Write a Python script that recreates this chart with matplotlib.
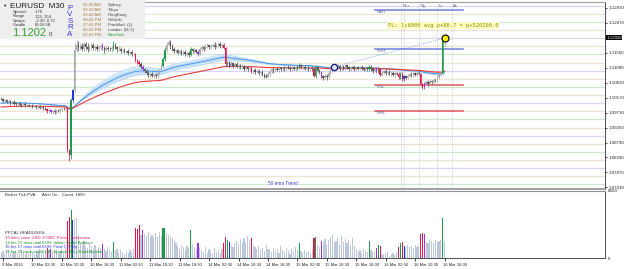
import numpy as np
import pandas as pd
import matplotlib
matplotlib.use("Agg")
import matplotlib.pyplot as plt
from matplotlib.patches import Rectangle

plt.rcParams['font.family'] = ['Liberation Sans', 'DejaVu Sans']

W, H = 625, 269

# EURUSD M30, prices in 1/10000 (pips)
open0 = 11014
closes = (
    [11012, 11008, 11010, 11005, 11006, 11002, 11004, 10999, 10997, 11000,
     10996, 10994, 10997, 10993, 10995, 10991, 10993, 10990, 10992, 10987,
     10989, 10985, 10988, 10984, 10982, 10975, 10978, 10972, 10976, 10973,
     10978, 10975, 10980, 10983, 10981, 10985]
    + [10856, 10840, 11010, 11040, 11165, 11180, 11170]
    + [11176, 11168, 11182, 11174, 11166, 11172, 11178, 11170, 11174, 11168,
       11172, 11176, 11170, 11165, 11171, 11168]
    + [11166, 11170, 11180, 11172, 11166, 11168, 11160, 11163, 11158, 11160,
       11154, 11157, 11150, 11152]
    + [11132, 11128, 11120, 11112, 11104, 11100, 11093, 11086, 11090, 11084,
       11088, 11083, 11092, 11100]
    + [11115, 11135, 11165, 11180, 11188, 11175, 11168, 11160]
    + [11162, 11156, 11160, 11152, 11158, 11150, 11155, 11149, 11166, 11160,
       11164, 11158, 11152, 11166, 11172, 11168, 11175, 11178, 11172, 11176,
       11180, 11174, 11178, 11182, 11176, 11180, 11170]
    + [11120, 11126, 11116]
    + [11124, 11115, 11120, 11112, 11117, 11110, 11114, 11106, 11110, 11104,
       11108, 11096, 11102, 11096, 11100, 11092, 11096, 11088, 11085, 11082,
       11090]
    + [11098, 11104, 11100, 11106, 11102, 11108, 11104, 11110, 11106, 11112,
       11108, 11105, 11110, 11106, 11112, 11108, 11118, 11110, 11112, 11106,
       11110, 11104, 11108]
    + [11104, 11085, 11112, 11100, 11095, 11083, 11078, 11085, 11080, 11092,
       11100, 11108, 11112]
    + [11110, 11114, 11106, 11112, 11108, 11116, 11110, 11105, 11112, 11108,
       11104, 11110, 11106, 11112, 11107, 11103, 11108, 11104, 11112, 11105,
       11100, 11106, 11098, 11104]
    + [11088]
    + [11094, 11098, 11092, 11096, 11090, 11094, 11088, 11092, 11090]
    + [11080, 11090, 11074, 11082]
    + [11078, 11085, 11090, 11086, 11092, 11088, 11094, 11090]
    + [11058, 11050, 11060]
    + [11066, 11060, 11068, 11064, 11072, 11070, 11080, 11088, 11094]
    + [11196, 11202]
)
up_wick = (
    [4, 5, 3, 4, 6, 3, 4, 5, 3, 4, 5, 3, 4, 6, 3, 4, 3, 5, 4, 3,
     4, 6, 3, 4, 5, 4, 6, 3, 4, 5, 3, 4, 6, 3, 5, 4]
    + [3, 4, 5, 5, 20, 15, 10]
    + [8, 9, 6, 7, 10, 6, 7, 8, 5, 9, 6, 7, 8, 6, 7, 5]
    + [6, 7, 10, 6, 5, 7, 6, 5, 7, 4, 6, 5, 7, 4]
    + [3, 5, 4, 6, 5, 4, 6, 5, 4, 6, 3, 5, 4, 6]
    + [5, 6, 8, 7, 8, 6, 7, 5]
    + [5, 6, 4, 7, 5, 6, 4, 5, 8, 5, 6, 4, 5, 7, 6, 5, 7, 6, 4, 6,
       5, 7, 6, 5, 6, 4, 5]
    + [4, 5, 4]
    + [6, 4, 5, 6, 4, 5, 6, 4, 5, 4, 6, 5, 4, 6, 4, 5, 4, 6, 4, 5, 6]
    + [4, 5, 6, 4, 5, 6, 4, 5, 6, 4, 5, 6, 4, 5, 4, 6, 5, 4, 5, 6, 4, 5, 4]
    + [5, 6, 6, 4, 5, 4, 5, 4, 5, 6, 4, 5, 4]
    + [5, 6, 4, 5, 6, 4, 5, 6, 4, 5, 6, 4, 5, 4, 6, 4, 5, 4, 6, 5, 4, 5, 4, 6]
    + [4]
    + [5, 4, 6, 4, 5, 4, 6, 4, 5]
    + [5, 6, 5, 4]
    + [4, 5, 4, 6, 4, 5, 4, 5]
    + [3, 5, 4]
    + [5, 4, 5, 4, 5, 4, 5, 4, 3]
    + [5, 3]
)
dn_wick = (
    [3, 4, 5, 3, 4, 6, 3, 4, 5, 3, 4, 5, 3, 4, 6, 3, 4, 5, 3, 4,
     5, 3, 4, 6, 3, 4, 5, 3, 4, 5, 6, 3, 4, 5, 3, 4]
    + [6, 18, 12, 5, 5, 7, 10]
    + [7, 8, 6, 9, 7, 6, 8, 7, 9, 6, 7, 8, 6, 9, 7, 6]
    + [6, 7, 5, 6, 8, 5, 6, 7, 5, 6, 7, 5, 6, 5]
    + [4, 6, 5, 7, 5, 6, 7, 5, 6, 4, 6, 5, 4, 5]
    + [4, 5, 4, 6, 5, 7, 6, 5]
    + [5, 4, 6, 5, 4, 6, 5, 7, 4, 5, 6, 4, 6, 5, 4, 6, 5, 4, 6, 5,
       4, 6, 5, 4, 6, 5, 4]
    + [5, 6, 5]
    + [5, 6, 4, 5, 6, 4, 5, 6, 4, 5, 6, 4, 5, 6, 4, 5, 6, 4, 6, 5, 4]
    + [5, 4, 6, 5, 4, 6, 5, 4, 6, 5, 4, 6, 5, 4, 6, 5, 4, 5, 6, 4, 5, 6, 4]
    + [4, 5, 6, 5, 4, 6, 7, 4, 8, 5, 4, 5, 4]
    + [4, 5, 6, 4, 5, 6, 4, 5, 6, 4, 5, 6, 4, 5, 6, 4, 5, 6, 4, 5, 6, 4, 5, 6]
    + [5]
    + [4, 5, 4, 6, 4, 5, 4, 6, 4]
    + [5, 4, 6, 5]
    + [5, 4, 5, 4, 5, 4, 5, 4]
    + [4, 6, 5]
    + [5, 6, 4, 5, 6, 4, 5, 4, 5]
    + [4, 21]
)
volumes = (
    [500, 700, 400, 600, 800, 500, 400, 600, 700, 400,
     500, 800, 600, 400, 700, 500, 900, 600, 400, 800,
     600, 900, 700, 500, 800, 1000, 800, 900, 600, 700,
     800, 500, 700, 900, 600, 1000]
    + [3600, 4000, 4700, 3700, 3800, 3900, 2300]
    + [1500, 1300, 1700, 1100, 1000, 1400, 1200, 900, 1300, 800,
       1100, 1000, 1400, 900, 700, 1100]
    + [800, 600, 1600, 700, 900, 500, 800, 600, 400, 700,
       500, 800, 600, 900]
    + [3000, 2850, 3250, 2300, 2750, 2400, 2200, 2550, 2100, 2300,
       2000, 2450, 2100, 2600]
    + [2200, 2950, 2950, 2500, 2300, 2100, 2000, 1700]
    + [1500, 1200, 900, 1300, 1100, 800, 1200, 1000, 2750, 1400,
       1100, 900, 1500, 1000, 800, 600, 1100, 500, 900, 700,
       400, 1000, 600, 800, 500, 900, 1500]
    + [2050, 1800, 1600]
    + [1300, 1100, 1500, 1700, 1400, 1900, 1600, 2000, 1500, 2200,
       1800, 2000, 1300, 1100, 900, 1200, 800, 1000, 700, 1300, 900]
    + [800, 600, 1000, 700, 900, 500, 1200, 800, 600, 1000,
       700, 400, 900, 600, 1100, 800, 1500, 700, 500, 800, 600, 700, 500]
    + [900, 2000, 2100, 1300, 1100, 1700, 1500, 1900, 1300, 1800,
       2100, 2300, 1600]
    + [1700, 2000, 1400, 2200, 1600, 1900, 1500, 1800, 1300, 2000,
       1200, 900, 600, 800, 500, 900, 700, 600, 1700, 800, 600, 700, 1000, 1300]
    + [1200]
    + [400, 300, 500, 600, 200, 400, 500, 300, 600]
    + [1100, 1500, 1600, 1200]
    + [1000, 1300, 1100, 1200, 1000, 1300, 1100, 1200]
    + [2400, 2500, 2400]
    + [1600, 1500, 1800, 1700, 1500, 1800, 1600, 1700, 1800]
    + [3950, 1700]
)
# PVA candle classes (red climax bear, green climax bull, blue rising bull, purple rising bear)
pva_red = [25, 36, 37, 73, 74, 75, 121, 122, 136, 170, 206, 216, 218, 228, 229]
pva_green = [38, 61, 88, 89, 103, 123, 162, 171, 200, 205, 217, 240]
pva_blue = [39, 124, 219]
pva_purple = [27, 55, 77, 107, 174, 204, 230]

price_ticks = [1.12930, 1.12470, 1.12010, 1.11550, 1.11090, 1.10630, 1.10170,
               1.09710, 1.09250, 1.08790, 1.08330, 1.07870, 1.07410]
date_labels = ["9 Mar 2016", "10 Mar 02:30", "10 Mar 10:30", "10 Mar 18:30",
               "11 Mar 02:30", "11 Mar 10:30", "11 Mar 18:30", "14 Mar 02:30",
               "14 Mar 10:30", "14 Mar 18:30", "15 Mar 02:30", "15 Mar 10:30",
               "15 Mar 18:30", "16 Mar 02:30", "16 Mar 10:30", "16 Mar 18:30"]
date_bars = [1, 17, 33, 49, 65, 81, 97, 113, 129, 145, 161, 177, 193, 209, 225, 241]

ref_names = ["RAH", "RDH", "RDL", "RWL"]
ref_prices = [1.1287, 1.1167, 1.1056, 1.0976]
ref_colors = ['#6f7fe0', '#6f7fe0', '#e05a5a', '#e05a5a']
session_bars = [217.3, 218.9, 227.1, 236.9, 245.0]
session_names = ["PLs", "", "Ny", "Lc", "As"]
trade_bars = [181, 241]
trade_prices = [1.1112, 1.1200]
current_price = 1.1202

# ---------------------------------------------------------------
c = np.array(closes) / 1e4
o = np.r_[open0 / 1e4, c[:-1]]
hi = np.maximum(o, c) + np.array(up_wick) / 1e4
lo = np.minimum(o, c) - np.array(dn_wick) / 1e4
n = len(c)
k = np.arange(n)

cols = []
vcols = []
for i in range(n):
    if i in pva_red:
        cols.append('#e3174f'); vcols.append('#e3174f')
    elif i in pva_green:
        cols.append('#1f9a4c'); vcols.append('#1f9a4c')
    elif i in pva_blue:
        cols.append('#2038e0'); vcols.append('#2038e0')
    elif i in pva_purple:
        cols.append('#a22cf0'); vcols.append('#a22cf0')
    else:
        cols.append('#a8a8a8' if c[i] >= o[i] else '#555555')
        vcols.append('#bcc7d9')

fig = plt.figure(figsize=(W / 100, H / 100), dpi=100)
ax = fig.add_axes([0, 1 - 189 / H, 605 / W, 187 / H])
vax = fig.add_axes([0, 1 - 258 / H, 605 / W, 67 / H])

xlim = (-0.63, 328.2)
ax.set_xlim(*xlim)
ax.set_ylim(1.07360, 1.13114)

# round-number levels
for lv in range(10750, 11301, 25):
    if lv % 100 == 0:
        lc = '#d8d8f6'
    elif lv % 50 == 0:
        lc = '#cceacc'
    else:
        lc = '#ebe5d2'
    ax.axhline(lv / 1e4, color=lc, lw=0.9, zorder=1)

# EMA ribbon and trend ema
s = pd.Series(np.r_[1.1000, c])
rib = np.array([s.ewm(span=sp, adjust=False).mean().values[1:] for sp in (55, 65, 75, 85)])
ax.fill_between(k, rib.min(axis=0) - 0.00006, rib.max(axis=0) + 0.00006,
                color='#d4e8fb', lw=0, zorder=2)
for r in rib:
    ax.plot(k, r, color='#a6cff3', lw=0.4, zorder=2)
ax.plot(k, s.ewm(span=70, adjust=False).mean().values[1:], color='#3d8fe0', lw=0.6, zorder=3)
red = pd.Series(np.r_[1.0988, c]).ewm(span=120, adjust=False).mean().values[1:]
ax.plot(k, red, color='#e83a3a', lw=0.8, zorder=3)

# candles
ax.vlines(k, lo, hi, colors=cols, lw=0.55, zorder=4)
ax.bar(k, np.abs(c - o) + 0.00002, bottom=np.minimum(o, c), width=0.75,
       color=cols, lw=0, zorder=4)

# reference lines
for nm, pr, rc in zip(ref_names, ref_prices, ref_colors):
    ax.plot([203.2, 251], [pr, pr], color=rc, lw=1.1, zorder=3)
    ax.text(204, pr - 0.0006, nm, fontsize=3.1, color='#6060a0', va='center', zorder=6)

# session markers
for sb, sn in zip(session_bars, session_names):
    ax.plot([sb, sb], [1.0736, 1.1307], color='#b4b4b4', lw=0.5,
            ls=(0, (1.2, 1.6)), zorder=2)
    if sn:
        ax.text(sb + 0.8, 1.1299, sn, fontsize=3.1, color='#606080', va='center')

# trade line
ax.plot(trade_bars, trade_prices, color='#6f90e8', lw=0.6, ls=(0, (1, 1.5)), zorder=5)
ax.plot(trade_bars[0], trade_prices[0], 'o', ms=4.5, mfc='#d8ecff', mec='#10107a', mew=0.9, zorder=6)
ax.plot(trade_bars[1], trade_prices[1], 'o', ms=5, mfc='#ffee00', mec='#111111', mew=0.9, zorder=6)

ax.text(210, 1.1239, "PL: 1c6000 avg p+86.7 = p+520200.0", fontsize=3.9,
        family='DejaVu Sans Mono', color='#8c8c00', va='center', zorder=6,
        bbox=dict(facecolor='#ffffc4', edgecolor='none', pad=0.6))
ax.text(145, 1.0754, "50 ema Trend", fontsize=3.4, color='#3535c0', va='center', zorder=6,
        bbox=dict(facecolor='white', edgecolor='none', pad=0.6))

# price axis (the label under the current-price box is hidden)
ax.yaxis.tick_right()
ax.set_yticks(price_ticks)
ax.set_yticklabels(["" if abs(v - current_price) < 0.0003 else f"{v:.5f}" for v in price_ticks],
                   fontsize=3.2, color='#222222')
ax.tick_params(axis='y', length=1.5, width=0.5, pad=0.8)
ax.set_xticks([])
ax.text(1.002, current_price, f"{current_price:.5f}", transform=ax.get_yaxis_transform(),
        fontsize=3.2, color='white', va='center', ha='left', clip_on=False, zorder=10,
        bbox=dict(facecolor='black', edgecolor='none', pad=0.4))
ax.spines['left'].set_visible(False)
ax.spines['top'].set_color('#a0a0a0')
ax.spines['bottom'].set_color('#909090')
ax.spines['bottom'].set_linewidth(1.2)
ax.spines['right'].set_color('#333333')
ax.spines['right'].set_linewidth(0.6)

# volume panel
vax.set_xlim(*xlim)
vax.set_ylim(0, 6603)
vax.bar(k, volumes, width=0.62, color=vcols, lw=0)
vax.yaxis.tick_right()
vax.set_yticks([0, 6603])
vax.set_yticklabels(["0", "6603"], fontsize=3.2, color='#222222')
vax.tick_params(axis='y', length=0, pad=2)
vax.set_xticks(date_bars)
vax.set_xticklabels([])
vax.tick_params(axis='x', length=2, width=0.5)
vax.spines['left'].set_visible(False)
vax.spines['top'].set_color('#909090')
vax.spines['right'].set_color('#333333')
vax.spines['right'].set_linewidth(0.6)
vax.spines['bottom'].set_color('#333333')
vax.spines['bottom'].set_linewidth(0.6)
for db, dl in zip(date_bars, date_labels):
    vax.text(db - 0.8, -0.07, dl, transform=vax.get_xaxis_transform(), fontsize=3.0,
             color='#222222', ha='left', va='top')


def ftext(x, y, txt, **kw):
    kw.setdefault('va', 'center')
    kw.setdefault('fontsize', 3.1)
    fig.text(x / W, 1 - y / H, txt, **kw)


# info panel
fig.patches.append(Rectangle((0, 1 - 39 / H), 145 / W, 39 / H, transform=fig.transFigure,
                             facecolor='#eeeeee', edgecolor='none', zorder=5))
ftext(2, 5.5, "\u25bc", fontsize=3.2, color='#222222', zorder=6)
ftext(10, 6.5, "EURUSD  M30", fontsize=5.9, color='#1e1e1e', zorder=6)
for yy, a, b in [(12, "Spread", "1.70"), (16.5, "Range", "113, 154"),
                 (21, "Swaps", "-2.30, 0.72"), (25.5, "Candle", "00:16:58")]:
    ftext(13, yy, a, color='#333333', zorder=6)
    ftext(35, yy, b, color='#333333', zorder=6)
ftext(12, 33.5, "1.1202", fontsize=8.0, color='#3a9e3a', zorder=6)
ftext(49, 34.5, "0", fontsize=4.2, color='#333333', zorder=6)
for i, ch in enumerate("PVSRA"):
    ftext(70, 8 + 6.6 * i, ch, fontsize=5.8, color='#3a3acf', ha='center', zorder=6)
times = ["05:43 AM", "03:43 AM", "02:43 AM", "08:43 PM", "07:43 PM", "06:43 PM", "02:43 PM"]
cities = ["Sydney", "Tokyo", "HongKong", "Helsinki", "Frankfurt  (L)", "London  (B,O)", "NewYork"]
for i, (t, cy) in enumerate(zip(times, cities)):
    ftext(83, 5 + 5 * i, t, color='#a87a3a', zorder=6)
    ftext(108, 5 + 5 * i, cy, color='#1a9e1a' if cy == "NewYork" else '#444444', zorder=6)

# lower panel texts
ftext(5, 195.5, "Broker Tick PVA:     Alert On.   Count: 1850", color='#303030')
ftext(5, 233, "PFCAL HEADLINES:", color='#303030')
heads = [("13 mins since USD: FOMC Press Conference", '#e0205a'),
         ("14 hrs 17 mins until EUR: Italian Trade Balance", '#1a8f2a'),
         ("15 hrs 17 mins until EUR: Final CPI y/y", '#3535e0'),
         ("15 hrs 25 mins until EUR: Spanish 10-y Bond Auction", '#1a8f2a')]
for i, (t, hc) in enumerate(heads):
    ftext(5, 238 + 4.6 * i, t, color=hc)

fig.savefig("out.png", dpi=100, facecolor='white')
